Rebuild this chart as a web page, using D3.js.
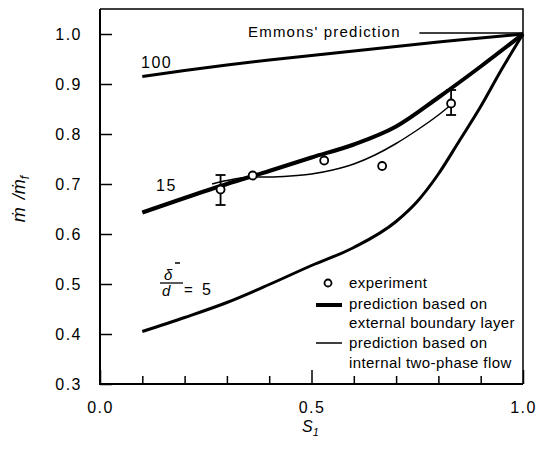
<!DOCTYPE html>
<html>
<head>
<meta charset="utf-8">
<script src="https://cdn.jsdelivr.net/npm/d3@7"></script>
<style>
  body { margin: 0; background: #fff; }
  svg { font-family: "Liberation Sans", Arial, sans-serif; }
</style>
</head>
<body>
<svg width="537" height="454"></svg>
<script>
// data
const sGrid = [0.1, 0.2, 0.3, 0.4, 0.5, 0.6, 0.7, 0.8, 0.9, 1.0];
const curve100 = [0.915, 0.927, 0.938, 0.948, 0.957, 0.966, 0.975, 0.984, 0.992, 1.0];
const curve15 = [0.643, 0.672, 0.700, 0.726, 0.753, 0.779, 0.815, 0.873, 0.935, 1.0];

const s5 = [0.1, 0.2, 0.3, 0.4, 0.5, 0.6, 0.7, 0.75, 0.8, 0.85, 0.9, 0.95, 1.0];
const curve5 = [0.405, 0.433, 0.463, 0.499, 0.537, 0.573, 0.625, 0.665, 0.72, 0.787, 0.855, 0.93, 1.0];

const sThin = [0.265, 0.30, 0.36, 0.40, 0.45, 0.50, 0.55, 0.60, 0.65, 0.70, 0.75, 0.80, 0.825];
const twoPhase = [0.700, 0.707, 0.714, 0.714, 0.716, 0.720, 0.728, 0.740, 0.758, 0.781, 0.808, 0.838, 0.855];

const expS = [0.285, 0.361, 0.53, 0.667, 0.83];
const expY = [0.689, 0.717, 0.747, 0.736, 0.861];
const errLo = [0.658, null, null, null, 0.838];
const errHi = [0.718, null, null, null, 0.888];

const yTicks = [0.3, 0.4, 0.5, 0.6, 0.7, 0.8, 0.9, 1.0];
const xMajor = [0.0, 0.5, 1.0];
const xMinor = [0.1, 0.2, 0.3, 0.4, 0.6, 0.7, 0.8, 0.9];

const svg = d3.select("svg");

const x = d3.scaleLinear().domain([0, 1]).range([100, 523]);
const y = d3.scaleLinear().domain([0.3, 1.0]).range([384, 34]);

// frame
svg.append("path")
  .attr("d", `M${x(0)},${y(1.05)}H${x(1)}V${y(0.3)}`)
  .attr("fill", "none").attr("stroke", "#000").attr("stroke-width", 1.5);
svg.append("path")
  .attr("d", `M${x(0)},${y(1.05)}V${y(0.3)}H${x(1)}`)
  .attr("fill", "none").attr("stroke", "#000").attr("stroke-width", 2);

// axes (ticks point inward)
const yAxis = svg.append("g")
  .attr("transform", `translate(${x(0)},0)`)
  .call(d3.axisLeft(y).tickValues(yTicks).tickSize(-12).tickPadding(18).tickFormat(d3.format(".1f")));

const xAxis = svg.append("g")
  .attr("transform", `translate(0,${y(0.3)})`)
  .call(d3.axisBottom(x).tickValues(xMajor).tickSize(-14).tickPadding(18).tickFormat(d3.format(".1f")));

svg.append("g")
  .attr("transform", `translate(0,${y(0.3)})`)
  .call(d3.axisBottom(x).tickValues(xMinor).tickSize(-8).tickFormat(""))
  .select(".domain").remove();

[yAxis, xAxis].forEach(g => {
  g.select(".domain").remove();
  g.selectAll("text").attr("font-size", 16).attr("letter-spacing", 1.5)
    .attr("font-family", "Liberation Sans, Arial, sans-serif").attr("fill", "#000");
});
svg.selectAll(".tick line").attr("stroke", "#000").attr("stroke-width", 1.5);

// curves
const line = d3.line().x(d => x(d[0])).y(d => y(d[1])).curve(d3.curveMonotoneX);

svg.append("path").datum(d3.zip(sGrid, curve100))
  .attr("d", line).attr("fill", "none").attr("stroke", "#000").attr("stroke-width", 3);
svg.append("path").datum(d3.zip(s5, curve5))
  .attr("d", line).attr("fill", "none").attr("stroke", "#000").attr("stroke-width", 3);
svg.append("path").datum(d3.zip(sThin, twoPhase))
  .attr("d", line).attr("fill", "none").attr("stroke", "#000").attr("stroke-width", 1.5);
svg.append("path").datum(d3.zip(sGrid, curve15))
  .attr("d", line).attr("fill", "none").attr("stroke", "#000").attr("stroke-width", 4);

// experiment points with error bars
const pts = expS.map((s, i) => ({ s: s, v: expY[i], lo: errLo[i], hi: errHi[i] }));
const eb = svg.append("g").selectAll("g").data(pts.filter(d => d.lo !== null)).join("g");
eb.append("line").attr("x1", d => x(d.s)).attr("x2", d => x(d.s))
  .attr("y1", d => y(d.lo)).attr("y2", d => y(d.hi))
  .attr("stroke", "#000").attr("stroke-width", 1.8);
eb.append("line").attr("x1", d => x(d.s) - 5).attr("x2", d => x(d.s) + 5)
  .attr("y1", d => y(d.lo)).attr("y2", d => y(d.lo)).attr("stroke", "#000").attr("stroke-width", 1.8);
eb.append("line").attr("x1", d => x(d.s) - 5).attr("x2", d => x(d.s) + 5)
  .attr("y1", d => y(d.hi)).attr("y2", d => y(d.hi)).attr("stroke", "#000").attr("stroke-width", 1.8);

svg.append("g").selectAll("circle").data(pts).join("circle")
  .attr("cx", d => x(d.s)).attr("cy", d => y(d.v)).attr("r", 4)
  .attr("fill", "#fff").attr("stroke", "#000").attr("stroke-width", 1.8);

// annotations
const txt = (tx, ty, s, size, extra) => {
  const t = svg.append("text").attr("x", tx).attr("y", ty).attr("font-size", size).text(s);
  if (extra) extra(t);
  return t;
};
txt(248, 37, "Emmons' prediction", 15, t => t.attr("letter-spacing", 1.2));
svg.append("line").attr("x1", x(0.755)).attr("x2", x(1.0)).attr("y1", y(1.0) - 1).attr("y2", y(1.0) - 1)
  .attr("stroke", "#000").attr("stroke-width", 1.5);
txt(141, 68, "100", 16, t => t.attr("letter-spacing", 1.5));
txt(156, 191, "15", 16, t => t.attr("letter-spacing", 1.5));

// delta-bar / d = 5
txt(164, 280, "δ", 15, t => t.attr("font-style", "italic"));
svg.append("line").attr("x1", 175).attr("x2", 180).attr("y1", 263).attr("y2", 263).attr("stroke", "#000").attr("stroke-width", 1.5);
svg.append("line").attr("x1", 160).attr("x2", 183).attr("y1", 283).attr("y2", 283).attr("stroke", "#000").attr("stroke-width", 1.3);
txt(162, 296, "d", 15, t => t.attr("font-style", "italic"));
txt(184, 295, "=", 15);
txt(202, 295, "5", 16);

// axis titles
const sl = svg.append("text").attr("x", 302).attr("y", 432).attr("font-size", 16).attr("font-style", "italic");
sl.append("tspan").text("S");
sl.append("tspan").attr("font-size", 11).attr("dy", 4).text("1");

const yl = svg.append("text").attr("transform", "translate(25,199) rotate(-90)")
  .attr("text-anchor", "middle").attr("font-size", 18).attr("font-style", "italic");
yl.append("tspan").text("ṁ");
yl.append("tspan").attr("dx", 8).text("/ṁ");
yl.append("tspan").attr("font-size", 12).attr("dy", 4).text("f");

// legend
const lg = svg.append("g");
lg.append("circle").attr("cx", 328).attr("cy", 283).attr("r", 3.5)
  .attr("fill", "#fff").attr("stroke", "#000").attr("stroke-width", 1.8);
lg.append("line").attr("x1", 316).attr("x2", 342).attr("y1", 305).attr("y2", 305).attr("stroke", "#000").attr("stroke-width", 4);
lg.append("line").attr("x1", 316).attr("x2", 342).attr("y1", 343).attr("y2", 343).attr("stroke", "#000").attr("stroke-width", 1.5);
const legendText = ["experiment", "prediction based on", "external boundary layer", "prediction based on", "internal two-phase flow"];
const legendY = [288, 309, 328, 348, 368];
legendText.forEach((s, i) => {
  lg.append("text").attr("x", 349).attr("y", legendY[i]).attr("font-size", 15)
    .attr("letter-spacing", 0.4).text(s);
});
</script>
</body>
</html>
